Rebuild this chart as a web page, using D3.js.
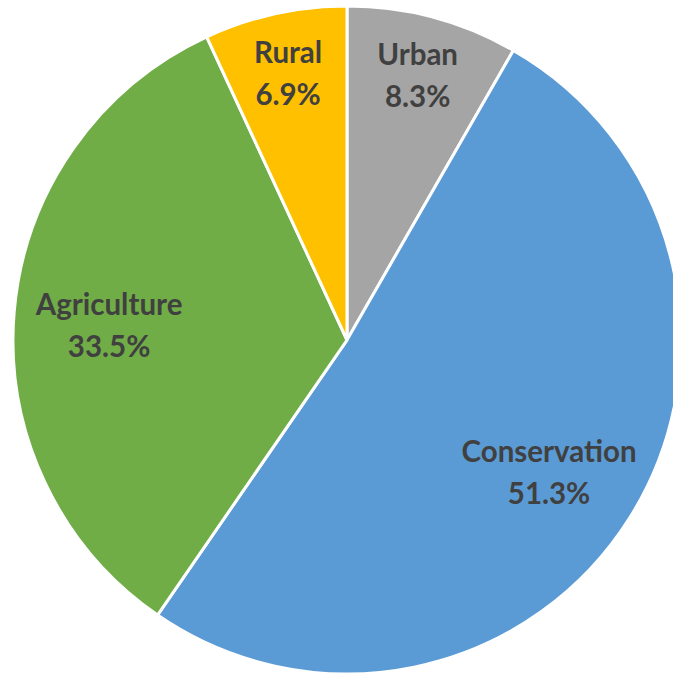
<!DOCTYPE html>
<html lang="en">
<head>
    <meta charset="UTF-8">
    <title>Land use</title>
    <script src="https://d3js.org/d3.v7.min.js"></script>
    <style>
    body { margin: 0; background: #fff; }
    .lbl { font-family: Lato, "Liberation Sans", Arial, sans-serif; font-weight: bold; fill: #404040; }
    </style>
</head>
<body>
    <div id="chart"></div>
    <script>
        // data, clockwise from 12 o'clock
        var categories = ["Urban", "Conservation", "Agriculture", "Rural"];
        var shares = [8.3, 51.3, 33.5, 6.9];
        var colors = ["#A5A5A5", "#5B9BD5", "#70AD47", "#FFC000"];

        var width = 673, height = 677;
        var cx = 347, cy = 340, radius = 334;

        var svg = d3.select("#chart")
          .append("svg")
            .attr("width", width)
            .attr("height", height)
          .append("g")
            .attr("transform", "translate(" + cx + "," + cy + ")");

        var data = categories.map(function(c, i) {
          return { name: c, value: shares[i], color: colors[i] };
        });

        var pie = d3.pie()
          .sort(null)
          .value(function(d) { return d.value; });

        var arc = d3.arc().innerRadius(0).outerRadius(radius);

        var arcs = pie(data);

        svg.selectAll("path")
          .data(arcs)
          .enter()
          .append("path")
            .attr("d", arc)
            .attr("fill", function(d) { return d.data.color; })
            .attr("stroke", "#fff")
            .attr("stroke-width", 3);

        // small slices get their labels pushed further out
        var labelPos = function(d) {
          var small = d.data.value < 10;
          var f = small ? 0.82 : 0.715;
          var p = d3.arc().innerRadius(radius * f).outerRadius(radius * f).centroid(d);
          if (!small) p[1] += 5;
          return p;
        };

        var labels = svg.selectAll("text.lbl")
          .data(arcs)
          .enter()
          .append("text")
            .attr("class", "lbl")
            .attr("text-anchor", "middle")
            .attr("font-size", 29.5)
            .attr("transform", function(d) {
              var p = labelPos(d);
              return "translate(" + p[0] + "," + p[1] + ")";
            });

        labels.append("tspan")
          .attr("x", 0)
          .attr("y", -10)
          .text(function(d) { return d.data.name; });

        labels.append("tspan")
          .attr("x", 0)
          .attr("y", 32)
          .text(function(d) { return d.data.value.toFixed(1) + "%"; });
    </script>
</body>
</html>
